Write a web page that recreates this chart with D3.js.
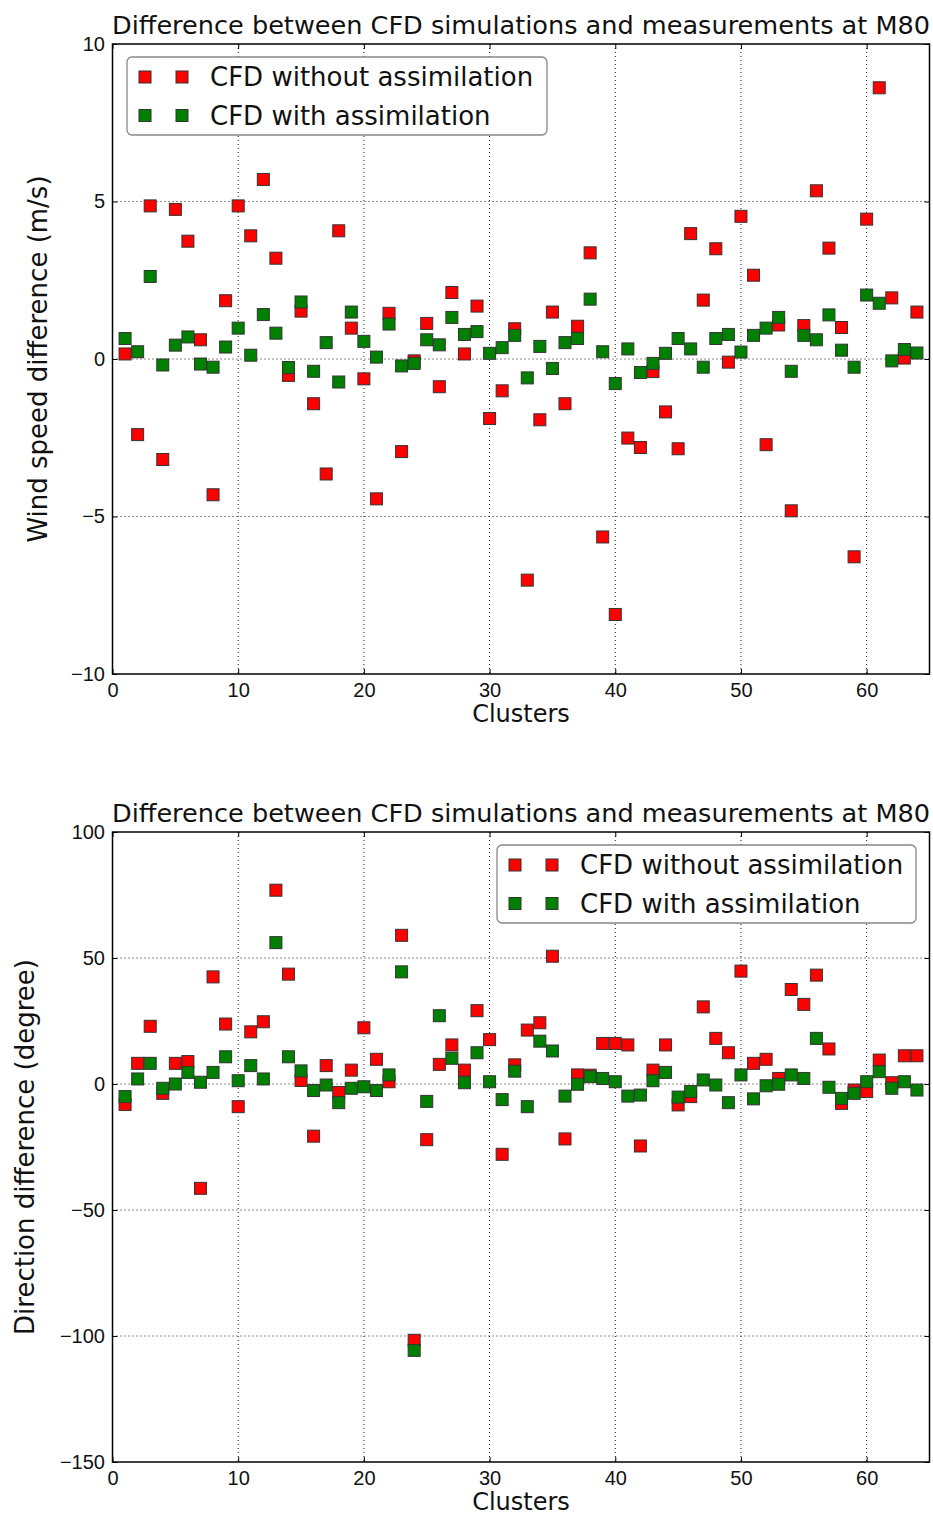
<!DOCTYPE html>
<html><head><meta charset="utf-8">
<script src="https://cdnjs.cloudflare.com/ajax/libs/d3/7.8.5/d3.min.js"></script>
<style>
body{margin:0;background:#fff;}
svg{display:block;font-family:"DejaVu Sans",sans-serif;}
</style></head>
<body>
<svg id="chart" width="933" height="1517"></svg>
<script>
const clusters = d3.range(1, 65);
const speedWithout = [0.16,-2.40,4.86,-3.19,4.75,3.74,0.61,-4.31,1.85,4.86,3.91,5.70,3.20,-0.52,1.52,-1.42,
  -3.65,4.07,0.98,-0.63,-4.44,1.45,-2.94,-0.06,1.13,-0.88,2.11,0.16,1.68,-1.89,-1.01,0.96,
  -7.02,-1.93,1.49,-1.42,1.04,3.37,-5.65,-8.11,-2.51,-2.81,-0.40,-1.68,-2.85,3.98,1.87,3.50,
  -0.10,4.53,2.66,-2.72,1.08,-4.82,1.06,5.34,3.52,1.00,-6.28,4.44,8.61,1.94,0.03,1.49];
const speedWith = [0.65,0.23,2.62,-0.19,0.44,0.70,-0.16,-0.26,0.38,0.98,0.12,1.41,0.82,-0.27,1.81,-0.39,
  0.52,-0.73,1.49,0.56,0.06,1.11,-0.22,-0.14,0.61,0.45,1.32,0.78,0.87,0.18,0.36,0.75,
  -0.60,0.40,-0.30,0.52,0.65,1.90,0.23,-0.78,0.32,-0.43,-0.14,0.18,0.65,0.32,-0.26,0.65,
  0.78,0.22,0.75,0.98,1.32,-0.39,0.75,0.61,1.40,0.28,-0.26,2.03,1.77,-0.06,0.30,0.19];
const dirWithout = [-8.1,8.2,22.9,-3.7,8.2,8.9,-41.4,42.5,23.8,-9.0,20.7,24.7,76.9,43.6,1.4,-20.7,
  7.3,-3.4,5.5,22.3,9.8,0.9,59.0,-101.7,-22.1,7.8,15.5,5.5,29.1,17.6,-27.9,7.6,
  21.4,24.3,50.7,-21.8,3.6,3.5,16.1,16.1,15.5,-24.6,5.5,15.5,-8.3,-5.0,30.6,18.1,
  12.4,44.8,8.2,9.8,2.2,37.5,31.6,43.2,13.9,-7.7,-2.4,-3.0,9.5,0.5,11.2,11.2];
const dirWith = [-5.0,2.0,8.2,-1.7,0.0,4.6,0.7,4.6,10.8,1.3,7.3,2.0,56.1,10.8,5.2,-2.6,
  -0.4,-7.4,-1.7,-1.1,-2.6,3.6,44.5,-105.7,-6.9,27.1,10.2,0.5,12.4,0.9,-6.2,5.1,
  -9.0,17.0,13.1,-4.8,-0.1,2.9,2.2,0.9,-4.8,-4.4,1.3,4.6,-5.2,-3.0,1.6,-0.4,
  -7.4,3.6,-5.9,-0.7,-0.1,3.6,2.2,18.1,-1.3,-5.7,-3.7,0.9,4.9,-1.7,0.9,-2.4];
const xTicks = [0,10,20,30,40,50,60];
const speedTicks = [-10,-5,0,5,10];
const dirTicks = [-150,-100,-50,0,50,100];
const seriesNames = ["CFD without assimilation","CFD with assimilation"];
const seriesColors = ["#ff0000","#008000"];
const titleText = "Difference between CFD simulations and measurements at M80";

const svg = d3.select("#chart");
const fmt = v => (v < 0 ? "\u2212" + Math.abs(v) : String(v));

function panel(cfg){
  const x = d3.scaleLinear().domain([0,65]).range([112.5,929.5]);
  const y = d3.scaleLinear().domain(cfg.yDomain).range([cfg.bottom,cfg.top]);
  const g = svg.append("g");
  const [x0,x1] = x.range();
  // grid
  g.append("g").selectAll("line").data(xTicks.slice(1)).join("line")
    .attr("x1",d=>x(d)).attr("x2",d=>x(d)).attr("y1",cfg.top).attr("y2",cfg.bottom)
    .attr("stroke","#000").attr("stroke-width",0.9).attr("stroke-dasharray","1,3");
  g.append("g").selectAll("line").data(cfg.yTicks.slice(1,-1)).join("line")
    .attr("x1",x0).attr("x2",x1).attr("y1",d=>y(d)).attr("y2",d=>y(d))
    .attr("stroke","#000").attr("stroke-width",0.9).attr("stroke-dasharray","1,3");
  // axes (inward ticks)
  const ax = (axisFn, scale, ticks, tr) => {
    const a = g.append("g").attr("transform",tr).call(axisFn(scale).tickValues(ticks).tickSizeInner(-5).tickSizeOuter(0).tickFormat(fmt));
    a.select(".domain").remove();
    a.selectAll("line").attr("stroke","#000").attr("stroke-width",1);
    return a;
  };
  const bx = ax(d3.axisBottom, x, xTicks, `translate(0,${cfg.bottom})`);
  bx.selectAll("text").attr("font-size",20).attr("fill","#111").attr("y",23).attr("dy",null).attr("x",0);
  const tx = ax(d3.axisTop, x, xTicks, `translate(0,${cfg.top})`);
  tx.selectAll("text").remove();
  const ly = ax(d3.axisLeft, y, cfg.yTicks, `translate(${x0},0)`);
  ly.selectAll("text").attr("font-size",20).attr("fill","#111").attr("x",-7.5);
  const ry = ax(d3.axisRight, y, cfg.yTicks, `translate(${x1},0)`);
  ry.selectAll("text").remove();
  // frame
  g.append("rect").attr("x",x0).attr("y",cfg.top).attr("width",x1-x0).attr("height",cfg.bottom-cfg.top)
    .attr("fill","none").attr("stroke","#000").attr("stroke-width",1.5);
  // points
  const s = 12;
  [cfg.s1, cfg.s2].forEach((vals,i)=>{
    g.append("g").selectAll("rect").data(vals).join("rect")
      .attr("x",(d,j)=>x(clusters[j])-s/2).attr("y",d=>y(d)-s/2)
      .attr("width",s).attr("height",s)
      .attr("fill",seriesColors[i]).attr("stroke","#333").attr("stroke-width",1);
  });
  // title
  g.append("text").attr("x",(x0+x1)/2).attr("y",cfg.top-10).attr("text-anchor","middle")
    .attr("font-size",24).attr("fill","#111")
    .attr("textLength",818).attr("lengthAdjust","spacingAndGlyphs").text(titleText);
  // xlabel
  g.append("text").attr("x",(x0+x1)/2).attr("y",cfg.bottom+48).attr("text-anchor","middle")
    .attr("font-size",24).attr("fill","#111").text("Clusters");
  // ylabel
  g.append("text").attr("transform",`translate(${cfg.ylx},${(cfg.top+cfg.bottom)/2}) rotate(-90)`)
    .attr("text-anchor","middle").attr("font-size",26).attr("fill","#111").text(cfg.ylabel);
  // legend
  const L = cfg.legend;
  const lg = g.append("g").attr("transform",`translate(${L.x},${L.y})`);
  lg.append("rect").attr("x",0).attr("y",0).attr("width",L.w).attr("height",78).attr("rx",5)
    .attr("fill","#fff").attr("stroke","#888").attr("stroke-width",1.3);
  seriesNames.forEach((n,i)=>{
    const yy = 20 + i*38.5;
    [18,55].forEach(mx=>{
      lg.append("rect").attr("x",mx-s/2).attr("y",yy-s/2).attr("width",s).attr("height",s)
        .attr("fill",seriesColors[i]).attr("stroke","#333").attr("stroke-width",1);
    });
    lg.append("text").attr("x",83).attr("y",yy).attr("dy","0.36em").attr("font-size",26).attr("fill","#111").text(n);
  });
}

panel({yDomain:[-10,10], top:44, bottom:674, yTicks:speedTicks, s1:speedWithout, s2:speedWith,
  ylabel:"Wind speed difference (m/s)", ylx:47, legend:{x:127,y:57,w:420}});
panel({yDomain:[-150,100], top:832, bottom:1462, yTicks:dirTicks, s1:dirWithout, s2:dirWith,
  ylabel:"Direction difference (degree)", ylx:34, legend:{x:497,y:845,w:419}});
</script>
</body></html>
